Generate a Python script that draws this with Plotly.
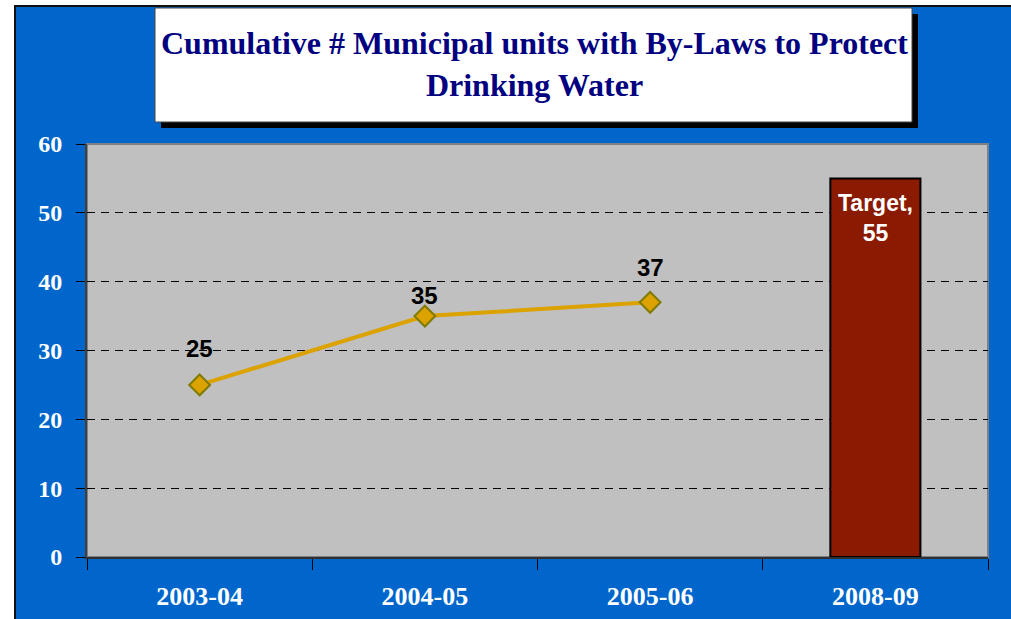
import plotly.graph_objects as go

categories = ["2003-04", "2004-05", "2005-06", "2008-09"]
actual_years = ["2003-04", "2004-05", "2005-06"]
actual_values = [25, 35, 37]
target_year = ["2008-09"]
target_value = [55]
target_label = "Target,<br>55"
y_ticks = [0, 10, 20, 30, 40, 50, 60]
title_text = "Cumulative # Municipal units with By-Laws to Protect<br>Drinking Water"

# label offsets (styling, pixels above each point)
label_shifts = [36, 21, 35]

W, H = 1011, 619
L, R, T, B = 87, 23, 144, 62
pw, ph = W - L - R, H - T - B

def px(x):
    return (x - L) / pw

def py(y):
    return (H - B - y) / ph

fig = go.Figure()

fig.add_trace(go.Bar(
    x=target_year, y=target_value, width=0.4,
    marker=dict(color="#8A1A00", line=dict(color="black", width=2)),
    hoverinfo="skip", showlegend=False,
))

fig.add_trace(go.Scatter(
    x=actual_years, y=actual_values, mode="lines+markers",
    line=dict(color="#DBA200", width=4),
    marker=dict(symbol="diamond", size=16, color="#DBA200",
                line=dict(color="#7F7A00", width=2)),
    showlegend=False,
))

for xv, yv, sh in zip(actual_years, actual_values, label_shifts):
    fig.add_annotation(x=xv, y=yv, text=str(yv), showarrow=False,
                       yshift=sh, font=dict(family="Arial", size=24, color="black", weight="bold"))

for xv, yv in zip(target_year, target_value):
    fig.add_annotation(x=xv, y=yv, text=target_label, showarrow=False,
                       yanchor="top", yshift=-10,
                       font=dict(family="Arial", size=23, color="white", weight="bold"))

shapes = [
    # blue background panel
    dict(type="rect", xref="paper", yref="paper", layer="below",
         x0=px(15), x1=px(1020), y0=py(630), y1=py(6),
         fillcolor="#0066CC", line=dict(color="#111111", width=2)),
    # plot area
    dict(type="rect", xref="paper", yref="paper", layer="below",
         x0=0, x1=1, y0=0, y1=1,
         fillcolor="#C0C0C0", line=dict(color="#808080", width=2)),
    # title shadow
    dict(type="rect", xref="paper", yref="paper", layer="below",
         x0=px(161), x1=px(918), y0=py(128), y1=py(14),
         fillcolor="black", line=dict(width=0)),
    # title box
    dict(type="rect", xref="paper", yref="paper", layer="below",
         x0=px(155), x1=px(912), y0=py(122), y1=py(8),
         fillcolor="white", line=dict(color="#444444", width=1)),
]

fig.add_annotation(xref="paper", yref="paper", x=px(534), y=py(64),
                   text=title_text, showarrow=False, xanchor="center", yanchor="middle",
                   font=dict(family="Liberation Serif", size=32, color="#000080", weight="bold"))

fig.update_layout(
    width=W, height=H,
    margin=dict(l=L, r=R, t=T, b=B, pad=0, autoexpand=False),
    paper_bgcolor="white",
    plot_bgcolor="rgba(0,0,0,0)",
    shapes=shapes,
    bargap=0.6,
)

fig.update_xaxes(
    type="category", categoryorder="array", categoryarray=categories,
    range=[-0.5, 3.5], tickson="boundaries", automargin=False,
    ticks="outside", ticklen=11, tickcolor="black", tickwidth=1,
    showline=True, linecolor="#303030", linewidth=2,
    showgrid=False, ticklabelstandoff=15,
    tickfont=dict(family="Liberation Serif", size=26, color="white", weight="bold"),
)

fig.update_yaxes(
    range=[0, 60], tickvals=y_ticks, automargin=False,
    ticks="outside", ticklen=9, tickcolor="black", tickwidth=1,
    showline=True, linecolor="#404040", linewidth=2,
    showgrid=True, gridcolor="black", gridwidth=1, griddash="8px,6px",
    zeroline=False, ticklabelstandoff=9,
    tickfont=dict(family="Liberation Serif", size=24, color="white", weight="bold"),
)

fig.write_html("out.html")
